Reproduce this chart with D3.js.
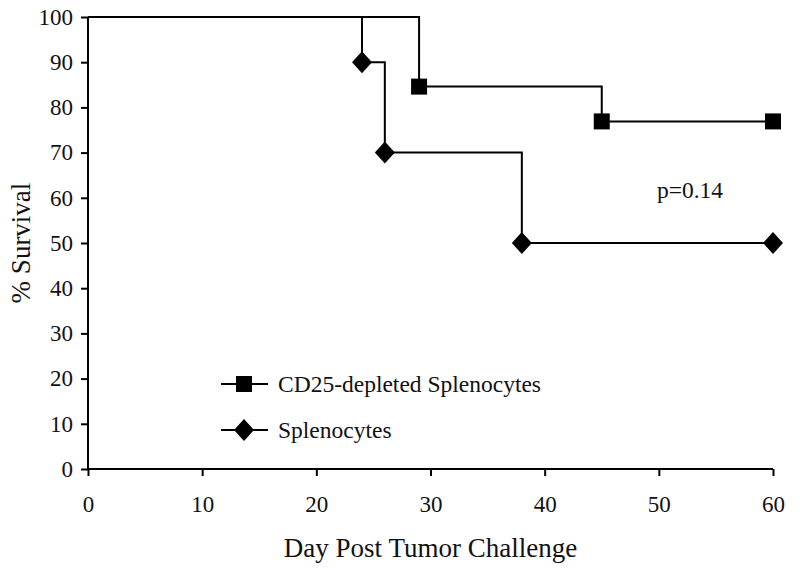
<!DOCTYPE html>
<html><head><meta charset="utf-8">
<script src="https://cdn.jsdelivr.net/npm/d3@7"></script>
<style>body{margin:0;background:#fff}</style>
</head><body><svg id="c" width="800" height="568"></svg>
<script>
const xTicks = [0,10,20,30,40,50,60];
const yTicks = [0,10,20,30,40,50,60,70,80,90,100];
const seriesNames = ["CD25-depleted Splenocytes","Splenocytes"];
// step points: [day, survival]
const cd25Steps = [[0,100],[29,84.6],[45,76.9],[60,76.9]];
const cd25Markers = [[29,84.6],[45,76.9],[60,76.9]];
const splenoSteps = [[0,100],[24,90],[26,70],[38,50],[60,50]];
const splenoMarkers = [[24,90],[26,70],[38,50],[60,50]];
const pLabel = "p=0.14";

const svg = d3.select("#c");
const font = "'Liberation Serif','Times New Roman',serif";
const x = d3.scaleLinear().domain([0,60]).range([88,773]);
const y = d3.scaleLinear().domain([0,100]).range([469,17]);

const xAxis = svg.append("g").attr("transform","translate(0,469)")
  .call(d3.axisBottom(x).tickValues(xTicks).tickSize(7).tickPadding(20).tickFormat(d3.format("d")));
const yAxis = svg.append("g").attr("transform","translate(88,0)")
  .call(d3.axisLeft(y).tickValues(yTicks).tickSize(7).tickPadding(8).tickFormat(d3.format("d")));
[xAxis,yAxis].forEach(a=>{
  a.selectAll("path,line").attr("stroke","#000").attr("stroke-width",2);
  a.selectAll("text").attr("font-family",font).attr("font-size",23).attr("fill","#111");
});
xAxis.select(".domain").attr("d","M"+x(0)+",0H"+x(60));
yAxis.select(".domain").attr("d","M0,"+y(0)+"V"+y(100));

function stepPath(pts){
  let d = "M"+x(pts[0][0])+","+y(pts[0][1]);
  for(let i=1;i<pts.length;i++){
    d += "H"+x(pts[i][0])+"V"+y(pts[i][1]);
  }
  return d;
}
svg.append("path").attr("d",stepPath(splenoSteps)).attr("fill","none").attr("stroke","#000").attr("stroke-width",2);
svg.append("path").attr("d",stepPath(cd25Steps)).attr("fill","none").attr("stroke","#000").attr("stroke-width",2);

const sq = d3.symbol().type(d3.symbolSquare).size(256);
const dm = "M0,-11L10,0L0,11L-10,0Z";
svg.selectAll(".sq").data(cd25Markers).enter().append("path")
  .attr("d",sq).attr("transform",d=>`translate(${x(d[0])},${y(d[1])})`).attr("fill","#000");
svg.selectAll(".dm").data(splenoMarkers).enter().append("path")
  .attr("d",dm).attr("transform",d=>`translate(${x(d[0])},${y(d[1])})`).attr("fill","#000");

// legend
const leg = [{n:seriesNames[0],s:sq,y:384},{n:seriesNames[1],s:dm,y:430}];
leg.forEach(l=>{
  svg.append("line").attr("x1",221).attr("x2",268).attr("y1",l.y).attr("y2",l.y).attr("stroke","#000").attr("stroke-width",2);
  svg.append("path").attr("d",l.s).attr("transform",`translate(244,${l.y})`).attr("fill","#000");
  svg.append("text").attr("x",278).attr("y",l.y+8).text(l.n).attr("font-family",font).attr("font-size",23.5).attr("fill","#111");
});

svg.append("text").attr("x",690).attr("y",198).attr("text-anchor","middle").text(pLabel)
  .attr("font-family",font).attr("font-size",23.5).attr("fill","#111");

svg.append("text").attr("x",x(30)+0).attr("y",557).attr("text-anchor","middle").text("Day Post Tumor Challenge")
  .attr("font-family",font).attr("font-size",27).attr("fill","#111");
svg.append("text").attr("transform","translate(30,243) rotate(-90)").attr("text-anchor","middle").text("% Survival")
  .attr("font-family",font).attr("font-size",27).attr("fill","#111");
</script></body></html>
